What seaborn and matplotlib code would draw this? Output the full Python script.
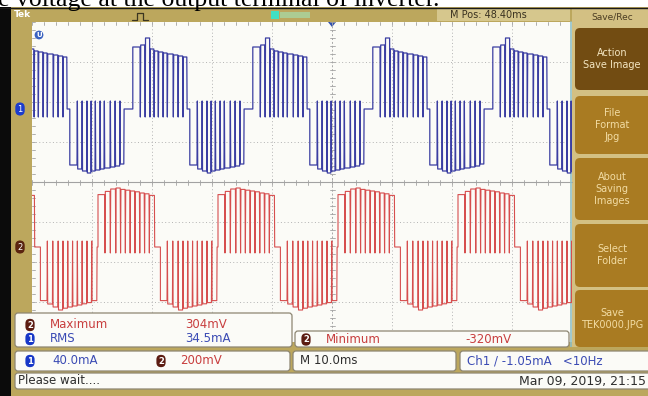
import numpy as np
import pandas as pd
import matplotlib
matplotlib.use('Agg')
import matplotlib.pyplot as plt
from matplotlib.patches import Rectangle, FancyBboxPatch, Polygon
import seaborn as sns

# ---- readings off the scope screen (M 10.0ms/div, ch1 40.0mA/div, ch2 200mV/div) ----
# start of every half cycle (ms from screen centre) and its polarity
ch1_start = [-53.2, -43.7, -33.2, -23.7, -13.2, -3.7, 6.8, 16.3, 26.8, 36.3]
ch1_sign = [1, -1, 1, -1, 1, -1, 1, -1, 1, -1]
ch2_start = [-59.0, -48.6, -39.0, -28.6, -19.0, -8.6, 1.0, 11.4, 21.0, 31.4, 41.0]
ch2_sign = [1, -1, 1, -1, 1, -1, 1, -1, 1, -1, 1]

# PWM notch instants inside one half cycle (ms after its start), last one = end of burst
ch1_notch = [0, 1.2, 2.0, 2.8, 3.5, 4.2, 5.0, 5.7, 6.7, 7.5, 8.3, 9.0]
ch2_notch = [0, 1.1, 2.0, 2.9, 3.7, 4.5, 5.3, 6.1, 6.9, 7.7, 8.5, 9.4]

# pulse tops between the notches
ch1_top_pos = [62, 64, 71, 60, 58, 57, 56, 55, 54, 53, 52]            # mA
ch1_top_neg = [-56, -60, -62, -64, -62, -61, -60, -59, -58, -57, -55]
ch2_top_pos = [262, 278, 290, 295, 288, 284, 280, 276, 270, 266, 258]  # mV
ch2_top_neg = [-268, -285, -300, -315, -306, -300, -295, -290, -284, -278, -268]
ch1_dip = 8    # mA a notch overshoots past zero
ch2_dip = 30   # mV

menu_labels = ['Action\nSave Image', 'File\nFormat\nJpg', 'About\nSaving\nImages',
               'Select\nFolder', 'Save\nTEK0000.JPG']

BLUE = '#3b3ea2'
RED = '#d64e4e'
KHAKI = '#bca75d'
W, H = 648, 396


def pwm_trace(starts, signs, notch, top_pos, top_neg, dip):
    t, v = [], []
    for s, sg in zip(starts, signs):
        tops = top_pos if sg > 0 else top_neg
        t += [s, s]
        v += [0, tops[0]]
        for k in range(1, len(notch) - 1):
            tk = s + notch[k]
            t += [tk, tk + 0.06, tk + 0.12]
            v += [tops[k - 1], -sg * dip, tops[k]]
        te = s + notch[-1]
        t += [te, te + 0.05]
        v += [tops[-1], 0]
    return pd.DataFrame({'t': t, 'v': v})


ch1 = pwm_trace(ch1_start, ch1_sign, ch1_notch, ch1_top_pos, ch1_top_neg, ch1_dip)
ch2 = pwm_trace(ch2_start, ch2_sign, ch2_notch, ch2_top_pos, ch2_top_neg, ch2_dip)

sns.set_style('white')
plt.rcParams['font.family'] = ['DejaVu Sans']

fig = plt.figure(figsize=(W / 100, H / 100), dpi=100)
fig.patch.set_facecolor('white')

# background layer in screen pixels
bg = fig.add_axes([0, 0, 1, 1], label='bg')
bg.set_xlim(0, W)
bg.set_ylim(H, 0)
bg.axis('off')

bg.add_patch(Rectangle((0, 7), 11, H - 7, fc='#0b0b0b', ec='none'))
bg.add_patch(Rectangle((11, 7), W - 11, H - 7, fc=KHAKI, ec='none'))
bg.add_patch(Rectangle((437, 8), 133, 13, fc='#d6c78d', ec='none'))
bg.plot([0, W], [7.5, 7.5], color='#1a1a1a', lw=1)

# graticule
gx0, gx1, gy0, gy1 = 32, 572, 22, 342
bg.add_patch(Rectangle((gx0, gy0), gx1 - gx0, gy1 - gy0, fc='#fbfbf7', ec='none'))
for x in range(gx0 + 60, gx1, 60):
    if x != 332:
        bg.plot([x, x], [gy0, gy1], ls=(0, (1, 2.5)), color='#b3b3b3', lw=0.7)
for y in range(gy0 + 40, gy1, 40):
    if y != 182:
        bg.plot([gx0, gx1], [y, y], ls=(0, (1, 2.5)), color='#b3b3b3', lw=0.7)
bg.plot([gx0, gx1], [182, 182], color='#a2a2a2', lw=0.8)
bg.plot([332, 332], [gy0, gy1], ls=(0, (2, 2)), color='#a8a8a8', lw=0.7)
for x in np.arange(gx0, gx1, 12):
    bg.plot([x, x], [179.5, 184.5], color='#a2a2a2', lw=0.6)
    bg.plot([x, x], [gy0, gy0 + 3], color='#a2a2a2', lw=0.6)
for y in np.arange(gy0, gy1, 8):
    bg.plot([329.5, 334.5], [y, y], color='#a2a2a2', lw=0.6)
    bg.plot([gx0, gx0 + 3], [y, y], color='#a2a2a2', lw=0.6)
bg.plot([571, 571], [gy0, 347], color='#8fc0c6', lw=1.2)

# top bar
bg.text(14, 14.5, 'Tek', color='white', fontsize=6.5, fontweight='bold', va='center')
bg.plot([132, 137, 137, 143, 143, 148], [20, 20, 13, 13, 20, 20], color='#3b3520', lw=0.9)
bg.add_patch(Rectangle((271, 10.5), 8, 8, fc='#3fe0c4', ec='none'))
bg.add_patch(Rectangle((280, 12), 30, 6, fc='#a9d6a0', ec='none', alpha=0.8))
bg.text(450, 14.5, 'M Pos: 48.40ms', color='#3a3220', fontsize=7, va='center')
bg.add_patch(Polygon([[328, 22], [336, 22], [332, 27]], closed=True, fc='#3050b0', ec='none'))

# channel markers and icons
bg.text(20, 109, '1', color='white', fontsize=6, ha='center', va='center',
        bbox=dict(boxstyle='round,pad=0.25,rounding_size=0.6', fc='#1c3ccc', ec='none'))
bg.text(20, 247, '2', color='white', fontsize=6, ha='center', va='center',
        bbox=dict(boxstyle='round,pad=0.25,rounding_size=0.6', fc='#5a2410', ec='none'))
bg.text(39, 35, 'U', color='white', fontsize=5, ha='center', va='center', fontweight='bold',
        bbox=dict(boxstyle='circle,pad=0.2', fc='#3a62c0', ec='none'))

# side menu
bg.add_patch(Rectangle((572, 8), W - 572, 339, fc='#d3c083', ec='none'))
bg.text(612, 17, 'Save/Rec', color='#4a3c22', fontsize=6.5, ha='center', va='center')
menu_rows = [(28, 90), (96, 154), (158, 220), (224, 287), (290, 347)]
for i, ((y0, y1), lab) in enumerate(zip(menu_rows, menu_labels)):
    fc = '#724c12' if i == 0 else '#a97b22'
    bg.add_patch(FancyBboxPatch((575, y0), 80, y1 - y0, boxstyle='round,pad=0,rounding_size=5',
                                fc=fc, ec='none'))
    bg.text(612, (y0 + y1) / 2, lab, color='#f4e6c2' if i == 0 else '#f2dca4', fontsize=7,
            ha='center', va='center', linespacing=1.25)

# caption of the page, cut off by the top edge as in the screenshot
fig.text(-0.003, 1 - 6 / H, 'e voltage at the output terminal of inverter.', family='Liberation Serif',
         fontsize=18.5, va='baseline', color='black')

# waveforms
ax = fig.add_axes([gx0 / W, 1 - gy1 / H, (gx1 - gx0) / W, (gy1 - gy0) / H], label='scope')
ax.set_zorder(2)
ax.patch.set_visible(False)
ax2 = ax.twinx()
ax2.set_zorder(3)
ax2.patch.set_visible(False)
sns.lineplot(data=ch1, x='t', y='v', sort=False, estimator=None, color=BLUE, linewidth=0.9, ax=ax)
sns.lineplot(data=ch2, x='t', y='v', sort=False, estimator=None, color=RED, linewidth=0.8, ax=ax2)
ax.set_xlim(-50, 40)
ax.set_ylim(-233, 87)
ax2.set_ylim(-475, 1125)
ax.axis('off')
ax2.axis('off')

# readout layer
ov = fig.add_axes([0, 0, 1, 1], label='ov')
ov.set_zorder(5)
ov.patch.set_visible(False)
ov.set_xlim(0, W)
ov.set_ylim(H, 0)
ov.axis('off')


def box(x0, y0, x1, y1):
    ov.add_patch(FancyBboxPatch((x0, y0), x1 - x0, y1 - y0, boxstyle='round,pad=0,rounding_size=3',
                                fc='#fbfbf7', ec='#8d8672', lw=0.9))


def badge(x, y, n, fc):
    ov.text(x, y, n, color='white', fontsize=6, ha='center', va='center', fontweight='bold',
            bbox=dict(boxstyle='round,pad=0.2,rounding_size=0.55', fc=fc, ec='none'))


ov.add_patch(Rectangle((11, 347), W - 11, 49, fc=KHAKI, ec='none'))
box(15, 313, 292, 347)
box(295, 331, 569, 347)
box(15, 351, 290, 371)
box(293, 351, 456, 371)
box(460, 351, 652, 371)
box(15, 373, 652, 389)

B1, B2 = '#1838c8', '#5c1c12'
TXT_R, TXT_B, TXT_K = '#c83e3e', '#3b4bb4', '#2e2e2e'
fs = 8.5
badge(30, 325, '2', B2)
ov.text(50, 325, 'Maximum', color=TXT_R, fontsize=fs, va='center')
ov.text(185, 325, '304mV', color=TXT_R, fontsize=fs, va='center')
badge(30, 339, '1', B1)
ov.text(50, 339, 'RMS', color=TXT_B, fontsize=fs, va='center')
ov.text(185, 339, '34.5mA', color=TXT_B, fontsize=fs, va='center')
badge(306, 339.5, '2', B2)
ov.text(326, 339.5, 'Minimum', color=TXT_R, fontsize=fs, va='center')
ov.text(465, 339.5, '-320mV', color=TXT_R, fontsize=fs, va='center')

badge(30, 361, '1', B1)
ov.text(52, 361, '40.0mA', color=TXT_B, fontsize=fs, va='center')
badge(161, 361, '2', B2)
ov.text(180, 361, '200mV', color=TXT_R, fontsize=fs, va='center')
ov.text(300, 361, 'M 10.0ms', color=TXT_K, fontsize=fs, va='center')
ov.text(467, 361, 'Ch1 / -1.05mA   <10Hz', color=TXT_B, fontsize=fs, va='center')
ov.text(18, 381, 'Please wait....', color=TXT_K, fontsize=fs, va='center')
ov.text(646, 381, 'Mar 09, 2019, 21:15', color=TXT_K, fontsize=9, va='center', ha='right')

fig.savefig('out.png', dpi=100)
